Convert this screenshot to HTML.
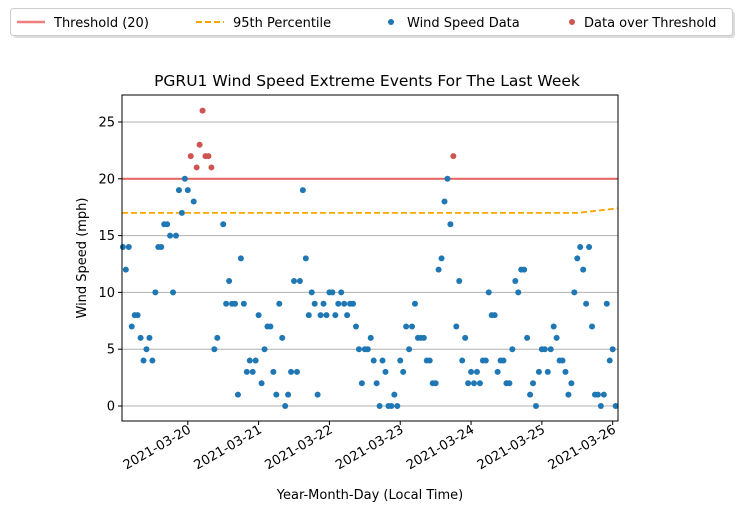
<!DOCTYPE html>
<html><head><meta charset="utf-8"><style>
body{margin:0;background:#fff;}
svg{display:block;font-family:"DejaVu Sans","Liberation Sans",sans-serif;}
</style></head><body>
<svg id="chart" width="740" height="512" viewBox="0 0 740 512" xmlns="http://www.w3.org/2000/svg">
<g>
<rect x="13" y="11" width="722" height="27" rx="3" fill="#ddd"/>
<rect x="10.5" y="8.5" width="722" height="27" rx="3" fill="#fff" stroke="#ccc"/>
<line x1="17" y1="22" x2="45" y2="22" stroke="#f07f7f" stroke-width="2.5"/>
<text x="54" y="27" font-size="13">Threshold (20)</text>
<line x1="196" y1="22" x2="224" y2="22" stroke="#ffa500" stroke-width="2" stroke-dasharray="6,3"/>
<text x="233" y="27" font-size="13">95th Percentile</text>
<circle cx="391" cy="22" r="3" fill="#1f77b4"/>
<text x="407" y="27" font-size="13">Wind Speed Data</text>
<circle cx="572" cy="22" r="3" fill="#cd5450"/>
<text x="584" y="27" font-size="13">Data over Threshold</text>
</g>
<text x="367" y="86" font-size="15.5" text-anchor="middle">PGRU1 Wind Speed Extreme Events For The Last Week</text>
<g id="grid"></g><g id="lines"></g><g id="points"></g><g id="axes"></g>
<text x="0" y="0" transform="translate(86,258) rotate(-90)" font-size="13" text-anchor="middle">Wind Speed (mph)</text>
<text x="370" y="499" font-size="13" text-anchor="middle">Year-Month-Day (Local Time)</text>
</svg>
<script>
// hours relative to 2021-03-20 00:00, hourly from -22
const startHour = -22;
const windValues = [14,12,14,7,8,8,6,4,5,6,4,10,14,14,16,16,15,10,15,19,17,20,19,22,18,21,23,26,22,22,21,5,6,null,16,9,11,9,9,1,13,9,3,4,3,4,8,2,5,7,7,3,1,9,6,0,1,3,11,3,11,19,13,8,10,9,1,8,9,8,10,10,8,9,10,9,8,9,9,7,5,2,5,5,6,4,2,0,4,3,0,0,1,0,4,3,7,5,7,9,6,6,6,4,4,2,2,12,13,18,20,16,22,7,11,4,6,2,3,2,3,2,4,4,10,8,8,3,4,4,2,2,5,11,10,12,12,6,1,2,0,3,5,5,3,5,7,6,4,4,3,1,2,10,13,14,12,9,14,7,1,1,0,1,9,4,5,0];
const thresholdValue = 20;
const pctHours = [-22.3, 132, 145.8];
const pctValues = [17, 17, 17.4];
const yTicks = [0,5,10,15,20,25];
const xTickHours = [0,24,48,72,96,120,144];
const xTickLabels = ["2021-03-20","2021-03-21","2021-03-22","2021-03-23","2021-03-24","2021-03-25","2021-03-26"];

const L=122,R=618,T=95,B=421;
const xMin=-22.3,xMax=145.8;
const xs=h=>L+(h-xMin)/(xMax-xMin)*(R-L);
const ys=v=>406-v*(406-122)/25;
const NS="http://www.w3.org/2000/svg";
function mk(tag,attrs,parent){const e=document.createElementNS(NS,tag);for(const k in attrs)e.setAttribute(k,attrs[k]);document.getElementById(parent).appendChild(e);return e;}

yTicks.forEach(v=>{
  const g=mk('line',{x1:L,x2:R,y1:ys(v),y2:ys(v),stroke:'#b0b0b0','stroke-width':1},'grid');
  
  
  const t=mk('line',{x1:L-4,x2:L,y1:ys(v),y2:ys(v),stroke:'#000'},'axes');
  
  
  const tx=mk('text',{x:L-7,y:ys(v)+4.5,'font-size':13,'text-anchor':'end'},'axes');
  tx.textContent=v;
  
  
});
xTickHours.forEach((h,i)=>{
  const x=xs(h);
  const t=mk('line',{x1:x,x2:x,y1:B,y2:B+4,stroke:'#000'},'axes');
  
  
  const tx=mk('text',{x:0,y:0,'font-size':13,'text-anchor':'end',transform:`translate(${x+4},${B+11}) rotate(-30)`},'axes');
  tx.textContent=xTickLabels[i];
  
  
});
const th=mk('line',{x1:L,x2:R,y1:ys(thresholdValue),y2:ys(thresholdValue),stroke:'#e8605c','stroke-width':2.2,opacity:0.9},'lines');


const pc=mk('polyline',{points:pctHours.map((h,i)=>xs(h)+','+ys(pctValues[i])).join(' '),fill:'none',stroke:'#ffa500','stroke-width':1.8,'stroke-dasharray':'6,3'},'lines');


windValues.forEach((v,i)=>{
  if(v===null)return;
  const over=v>thresholdValue;
  const c=mk('circle',{cx:xs(startHour+i),cy:ys(v),r:3,fill:over?'#cd5450':'#1f77b4'},'points');
  
  
});
const fr=mk('rect',{x:L,y:T,width:R-L,height:B-T,fill:'none',stroke:'#000','stroke-width':1},'axes');


</script>
</body></html>
